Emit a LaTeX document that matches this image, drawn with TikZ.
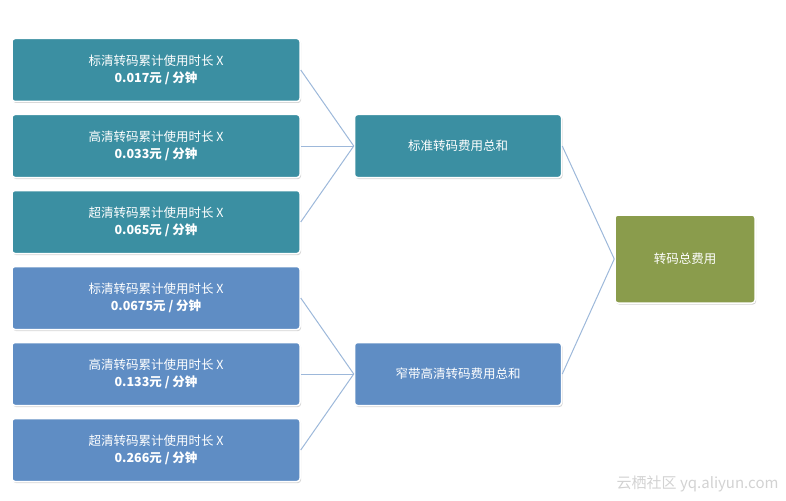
\documentclass[tikz,border=0pt]{standalone}
\usepackage{fontspec}
\setmainfont{Noto Sans CJK SC}
\usepackage{tikz}
\usetikzlibrary{positioning,shadows}
\definecolor{tealbox}{HTML}{3B8FA2}
\definecolor{bluebox}{HTML}{5F8DC4}
\definecolor{greenbox}{HTML}{8A9C4C}
\definecolor{linkline}{HTML}{9DB8DA}
\tikzset{
  costbox/.style={draw=white,line width=1.5pt,rounded corners=3pt,text=white,
    minimum width=288pt,minimum height=63pt,align=center,font=\fontsize{12.5}{17}\selectfont,
    drop shadow={shadow xshift=1pt,shadow yshift=-1.5pt,opacity=0.35}},
  sumbox/.style={costbox,minimum width=207pt},
  link/.style={linkline,line width=1pt}
}
\begin{document}
\begin{tikzpicture}[x=1pt,y=-1pt]
\useasboundingbox (0,0) rectangle (786,500);
% left column
\foreach \n/\y/\col/\kind/\price in {
  a/70/tealbox/标清/0.017, b/146/tealbox/高清/0.033, c/222/tealbox/超清/0.065,
  d/298/bluebox/标清/0.0675, e/374/bluebox/高清/0.133, f/450/bluebox/超清/0.266}
  \node[costbox,fill=\col] (\n) at (156,\y) {\kind 转码累计使用时长 X\\\textbf{\price 元 / 分钟}};
% sums
\node[sumbox,fill=tealbox] (std) at (458,146) {标准转码费用总和};
\node[sumbox,fill=bluebox] (nb) at (458,374) {窄带高清转码费用总和};
\node[costbox,fill=greenbox,minimum width=140pt,minimum height=88pt] (total) at (685,259) {转码总费用};
% connectors
\foreach \n in {a,b,c} \draw[link] (\n.east) -- (std.west);
\foreach \n in {d,e,f} \draw[link] (\n.east) -- (nb.west);
\draw[link] (std.east) -- (total.west);
\draw[link] (nb.east) -- (total.west);
% watermark
\node[text=gray!35,font=\fontsize{15}{15}\selectfont,anchor=east] (mark) at (782,484) {云栖社区 yq.aliyun.com};
\end{tikzpicture}
\end{document}
